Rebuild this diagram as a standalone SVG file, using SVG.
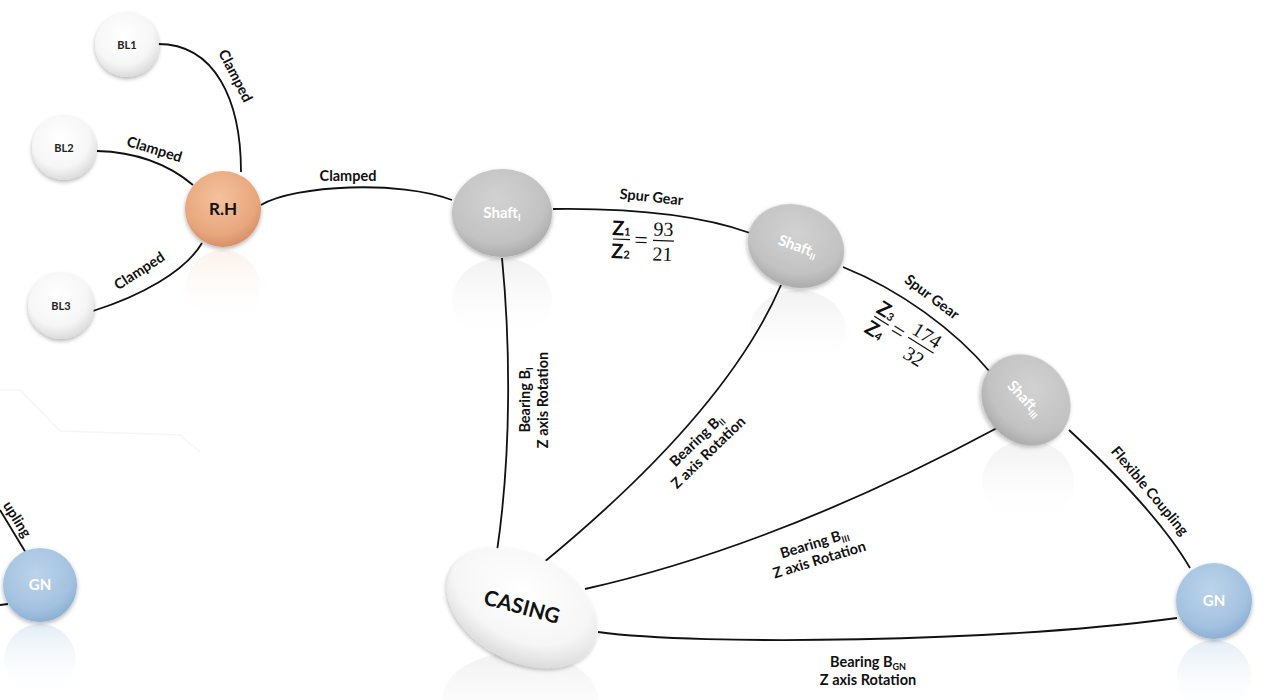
<svg xmlns="http://www.w3.org/2000/svg" width="1268" height="700" viewBox="0 0 1268 700">
<defs>
  <radialGradient id="gWhite" cx="45%" cy="35%" r="65%">
    <stop offset="0" stop-color="#ffffff"/>
    <stop offset="0.7" stop-color="#f6f6f6"/>
    <stop offset="1" stop-color="#dcdcdc"/>
  </radialGradient>
  <radialGradient id="gOrange" cx="45%" cy="35%" r="65%">
    <stop offset="0" stop-color="#f4c19e"/>
    <stop offset="0.75" stop-color="#e8a77d"/>
    <stop offset="1" stop-color="#d69068"/>
  </radialGradient>
  <radialGradient id="gGray" cx="45%" cy="35%" r="65%">
    <stop offset="0" stop-color="#d2d2d2"/>
    <stop offset="0.75" stop-color="#c2c2c2"/>
    <stop offset="1" stop-color="#acacac"/>
  </radialGradient>
  <radialGradient id="gBlue" cx="45%" cy="35%" r="65%">
    <stop offset="0" stop-color="#bcd3ea"/>
    <stop offset="0.75" stop-color="#a3c2e0"/>
    <stop offset="1" stop-color="#8cb0d4"/>
  </radialGradient>
  <linearGradient id="rGray" x1="0" y1="0" x2="0" y2="1">
    <stop offset="0" stop-color="#d0d0d0" stop-opacity="0.3"/>
    <stop offset="0.6" stop-color="#e8e8e8" stop-opacity="0.1"/>
    <stop offset="1" stop-color="#ffffff" stop-opacity="0"/>
  </linearGradient>
  <linearGradient id="rBlue" x1="0" y1="0" x2="0" y2="1">
    <stop offset="0" stop-color="#a3c2e0" stop-opacity="0.3"/>
    <stop offset="1" stop-color="#ffffff" stop-opacity="0"/>
  </linearGradient>
  <linearGradient id="rOrange" x1="0" y1="0" x2="0" y2="1">
    <stop offset="0" stop-color="#e8a77d" stop-opacity="0.15"/>
    <stop offset="1" stop-color="#ffffff" stop-opacity="0"/>
  </linearGradient>
  <filter id="sh" x="-30%" y="-30%" width="160%" height="160%">
    <feDropShadow dx="0" dy="2" stdDeviation="2" flood-color="#000" flood-opacity="0.3"/>
  </filter>
  <style>
    .edge{fill:none;stroke:#111;stroke-width:1.8}
    .lbl{font-family:Lato,"Open Sans","Liberation Sans",sans-serif;font-weight:bold;font-size:14.5px;fill:#111;text-anchor:middle}
    .nt{font-family:Lato,"Open Sans","Liberation Sans",sans-serif;font-weight:bold;text-anchor:middle}
    .wt{fill:#ffffff}
    .math{font-family:"Liberation Serif","DejaVu Serif",serif;font-size:20px;fill:#111;text-anchor:middle}
    .eq{font-family:"Liberation Serif","DejaVu Serif",serif;font-size:24px;fill:#111;text-anchor:middle}
    .z{font-family:Lato,"Open Sans","Liberation Sans",sans-serif;font-weight:bold;font-size:20px;fill:#111;text-anchor:middle}
    .bar{stroke:#111;stroke-width:1.2}
  </style>
</defs>
<rect width="1268" height="700" fill="#ffffff"/>

<path d="M0,390 L20,390 L60,431 L180,435 L200,452" fill="none" stroke="#f6f6f6" stroke-width="1.5"/>

<g id="reflections">
  <ellipse cx="223" cy="287" rx="37" ry="37" fill="url(#rOrange)"/>
  <ellipse cx="502" cy="300" rx="50" ry="42" fill="url(#rGray)"/>
  <ellipse cx="798" cy="330" rx="48" ry="40" fill="url(#rGray)"/>
  <ellipse cx="1028" cy="482" rx="46" ry="42" fill="url(#rGray)"/>
  <ellipse cx="1214" cy="676" rx="37" ry="36" fill="url(#rBlue)"/>
  <ellipse cx="40" cy="660" rx="36" ry="36" fill="url(#rBlue)"/>
  <ellipse cx="520" cy="700" rx="78" ry="48" fill="url(#rGray)"/>
</g>

<g id="connectors">
  <path class="edge" d="M158,44 C215,44 241,100 241,172"/>
  <path class="edge" d="M97,151 C135,152 168,164 193,185"/>
  <path class="edge" d="M93,311 C140,296 185,272 202,243"/>
  <path class="edge" d="M261,205 C295,185 400,180 452,200"/>
  <path class="edge" d="M553,209 C630,208 700,215 750,233"/>
  <path class="edge" d="M843,267 C900,290 955,330 990,372"/>
  <path class="edge" d="M1069,430 C1110,468 1162,520 1190,568"/>
  <path class="edge" d="M502,258 C510,340 512,450 497,551"/>
  <path class="edge" d="M781,285 C740,380 650,475 543,563"/>
  <path class="edge" d="M997,428 C900,480 750,552 585,589"/>
  <path class="edge" d="M598,632 C700,646 1000,642 1177,618"/>
  <path class="edge" d="M26,553 C18,540 8,523 0,510"/>
  <path class="edge" d="M0,605 L8,604"/>

  <text class="lbl" transform="translate(231,78) rotate(63)">Clamped</text>
  <text class="lbl" transform="translate(153,154) rotate(17)">Clamped</text>
  <text class="lbl" transform="translate(142,275) rotate(-33)">Clamped</text>
  <text class="lbl" x="348" y="181">Clamped</text>
  <text class="lbl" transform="translate(651,202) rotate(6)">Spur Gear</text>
  <text class="lbl" transform="translate(929,301) rotate(37)">Spur Gear</text>
  <text class="lbl" transform="translate(1146,494) rotate(50)">Flexible Coupling</text>
  <text class="lbl" transform="translate(13,522) rotate(58)">upling</text>

  <g transform="translate(641,240) rotate(2)">
    <text class="z" x="-20" y="-4">Z<tspan font-size="11">1</tspan></text>
    <line class="bar" x1="-28" y1="0" x2="-11" y2="0"/>
    <text class="z" x="-20" y="19">Z<tspan font-size="11">2</tspan></text>
    <text class="eq" x="0" y="8">=</text>
    <text class="math" x="22" y="-5">93</text>
    <line class="bar" x1="12" y1="0" x2="33" y2="0"/>
    <text class="math" x="22" y="20">21</text>
  </g>
  <g transform="translate(898,331) rotate(32)">
    <text class="z" x="-20" y="-4">Z<tspan font-size="11">3</tspan></text>
    <line class="bar" x1="-28" y1="0" x2="-11" y2="0"/>
    <text class="z" x="-20" y="19">Z<tspan font-size="11">4</tspan></text>
    <text class="eq" x="0" y="8">=</text>
    <text class="math" x="27" y="-5">174</text>
    <line class="bar" x1="12" y1="0" x2="42" y2="0"/>
    <text class="math" x="27" y="20">32</text>
  </g>

  <g transform="translate(536,400) rotate(-90)">
    <text class="lbl" x="0" y="-6">Bearing B<tspan font-size="9" dy="3">I</tspan></text>
    <text class="lbl" x="0" y="12">Z axis Rotation</text>
  </g>
  <g transform="translate(702,446) rotate(-44)">
    <text class="lbl" x="0" y="-3">Bearing B<tspan font-size="9" dy="3">II</tspan></text>
    <text class="lbl" x="0" y="14">Z axis Rotation</text>
  </g>
  <g transform="translate(817,552) rotate(-17)">
    <text class="lbl" x="0" y="-4">Bearing B<tspan font-size="9" dy="3">III</tspan></text>
    <text class="lbl" x="0" y="13">Z axis Rotation</text>
  </g>
  <g transform="translate(868,667)">
    <text class="lbl" x="0" y="0">Bearing B<tspan font-size="9" dy="3">GN</tspan></text>
    <text class="lbl" x="0" y="18">Z axis Rotation</text>
  </g>
</g>

<g id="BL1">
  <circle cx="127" cy="45" r="32" fill="url(#gWhite)" filter="url(#sh)"/>
  <text class="nt" x="127" y="49" font-size="11" fill="#222">BL1</text>
</g>
<g id="BL2">
  <circle cx="64" cy="148" r="32" fill="url(#gWhite)" filter="url(#sh)"/>
  <text class="nt" x="64" y="152" font-size="11" fill="#222">BL2</text>
</g>
<g id="BL3">
  <circle cx="61" cy="306" r="33" fill="url(#gWhite)" filter="url(#sh)"/>
  <text class="nt" x="61" y="310" font-size="11" fill="#222">BL3</text>
</g>
<g id="RH">
  <circle cx="223" cy="209" r="38" fill="url(#gOrange)" filter="url(#sh)"/>
  <text class="nt" x="223" y="215" font-size="17" fill="#111">R.H</text>
</g>
<g id="ShaftI">
  <ellipse cx="502" cy="213" rx="50" ry="44" fill="url(#gGray)" filter="url(#sh)"/>
  <text class="nt wt" x="502" y="218" font-size="15">Shaft<tspan font-size="9" dy="3">I</tspan></text>
</g>
<g id="ShaftII">
  <ellipse cx="0" cy="0" rx="49" ry="41" transform="translate(796,246) rotate(20)" fill="url(#gGray)" filter="url(#sh)"/>
  <text class="nt wt" transform="translate(796,251) rotate(20)" font-size="15">Shaft<tspan font-size="9" dy="3">II</tspan></text>
</g>
<g id="ShaftIII">
  <ellipse cx="0" cy="0" rx="48" ry="42" transform="translate(1026,400) rotate(50)" fill="url(#gGray)" filter="url(#sh)"/>
  <text class="nt wt" transform="translate(1021,402) rotate(47)" font-size="15">Shaft<tspan font-size="9" dy="3">III</tspan></text>
</g>
<g id="GN">
  <circle cx="1214" cy="601" r="38" fill="url(#gBlue)" filter="url(#sh)"/>
  <text class="nt wt" x="1214" y="606" font-size="15">GN</text>
</g>
<g id="GN_left">
  <circle cx="40" cy="585" r="37" fill="url(#gBlue)" filter="url(#sh)"/>
  <text class="nt wt" x="40" y="590" font-size="15">GN</text>
</g>
<g id="CASING">
  <ellipse cx="0" cy="0" rx="80" ry="53" transform="translate(522,608) rotate(28)" fill="url(#gWhite)" filter="url(#sh)"/>
  <text class="nt" transform="translate(520,614) rotate(15)" font-size="21" fill="#111">CASING</text>
</g>
</svg>
